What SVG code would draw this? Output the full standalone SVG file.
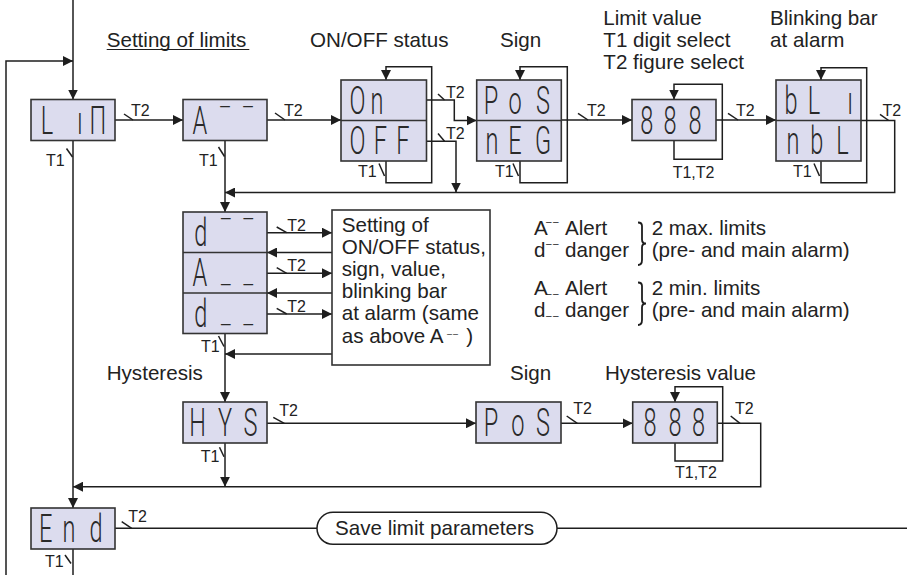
<svg xmlns="http://www.w3.org/2000/svg" width="907" height="575" viewBox="0 0 907 575">
<defs>
<marker id="ah" markerWidth="10" markerHeight="10" refX="10" refY="5" orient="auto" markerUnits="userSpaceOnUse"><path d="M0,0 L10,5 L0,10 z" fill="#1e1e1e"/></marker>
<style>
.ln{fill:none;stroke:#1e1e1e;stroke-width:1.5}
.ar{marker-end:url(#ah)}
.box{fill:#dcdcee;stroke:#333;stroke-width:1.6}
.dv{fill:none;stroke:#333;stroke-width:1.6}
.t{font-family:"Liberation Sans",Arial,sans-serif;font-size:20.6px;fill:#222}
.k{font-family:"Liberation Sans",Arial,sans-serif;font-size:16px;fill:#222}
.seg{font-family:Roboto,"DejaVu Sans",sans-serif;font-weight:300;font-size:38px;fill:#2a2a2a;text-anchor:middle}
.bar{font-size:24px}
.sm{font-size:10px;letter-spacing:1.5px}
</style>
</defs>
<rect width="907" height="575" fill="#fff"/>

<g id="connectors">
<path class="ln ar" d="M73,0 V99.5"/>
<path class="ln ar" d="M6,575 V61 H73"/>
<path class="ln ar" d="M115,120 H183"/>
<path class="ln" d="M124,114 L133,120"/>
<path class="ln ar" d="M73,140.5 V508"/>
<path class="ln" d="M66.5,148.5 L72.5,157"/>
<path class="ln ar" d="M225,140.5 V212"/>
<path class="ln" d="M218.5,147 L224.5,156.5"/>
<path class="ln ar" d="M267,120 H341"/>
<path class="ln" d="M275,113 L285,120"/>
<path class="ln ar" d="M386,161 V182.7 H431.7 V66.7 H386 V80"/>
<path class="ln" d="M379,163.5 L384.5,176"/>
<path class="ln ar" d="M426,100 H454.3 V120.5 H476.7"/>
<path class="ln" d="M438,94 L444.5,100"/>
<path class="ln ar" d="M426,141.3 H456 V192.5"/>
<path class="ln" d="M438,133.5 L444.5,141.3"/>
<path class="ln ar" d="M520,161 V182.7 H567.3 V66.7 H520 V80"/>
<path class="ln" d="M513,163.5 L518.5,176"/>
<path class="ln ar" d="M561.3,120 H632"/>
<path class="ln" d="M578,113.3 L588,120"/>
<path class="ln ar" d="M674,140.5 V159.3 H722.3 V84.3 H674 V99.5"/>
<path class="ln ar" d="M716,120 H776"/>
<path class="ln" d="M728,113.3 L738,120"/>
<path class="ln ar" d="M821,161.3 V182.7 H866.7 V67.7 H821 V80"/>
<path class="ln" d="M814,163.5 L819.5,176"/>
<path class="ln ar" d="M861,120.5 H894.7 V192.5 H225"/>
<path class="ln" d="M880,114.3 L888.7,120.5"/>
<path class="ln ar" d="M267,232.7 H332"/>
<path class="ln" d="M276.7,227 L286.7,232.7"/>
<path class="ln ar" d="M267,273.3 H332"/>
<path class="ln" d="M276.7,267.6 L286.7,273.3"/>
<path class="ln ar" d="M267,314 H332"/>
<path class="ln" d="M276.7,308.3 L286.7,314"/>
<path class="ln ar" d="M332,252.5 H267"/>
<path class="ln ar" d="M332,293 H267"/>
<path class="ln ar" d="M332,354 H225"/>
<path class="ln ar" d="M225,333.5 V402"/>
<path class="ln" d="M218.5,336 L224,346.5"/>
<path class="ln ar" d="M267,423.3 H476"/>
<path class="ln" d="M273.3,417.3 L284.3,423.3"/>
<path class="ln ar" d="M225,443 V486.7"/>
<path class="ln" d="M219.5,447.3 L224,456.7"/>
<path class="ln ar" d="M561,423.3 H632.7"/>
<path class="ln" d="M566.7,416 L577.3,423.3"/>
<path class="ln ar" d="M675,443 V461 H722.7 V386.7 H675 V402"/>
<path class="ln ar" d="M717.3,423.3 H760.7 V486.7 H73"/>
<path class="ln" d="M730.7,416 L740,423.3"/>
<path class="ln" d="M115,528.3 H317"/>
<path class="ln" d="M121.7,521.7 L131.7,528.3"/>
<path class="ln" d="M557,528.3 H907"/>
<path class="ln" d="M73,549 V575"/>
<path class="ln" d="M65,555 L71,563.5"/>
</g>

<g id="labels">
<text class="t" x="106.7" y="46.5">Setting of limits</text>
<path class="ln" d="M106.7,49.5 H249.3" style="stroke-width:1.2"/>
<text class="t" x="310" y="46.5">ON/OFF status</text>
<text class="t" x="500" y="46.5">Sign</text>
<text class="t" x="603.3" y="24.5">Limit value</text>
<text class="t" x="603.3" y="46.5">T1 digit select</text>
<text class="t" x="603.3" y="68.5">T2 figure select</text>
<text class="t" x="770" y="24.5">Blinking bar</text>
<text class="t" x="770" y="46.5">at alarm</text>
<text class="t" x="106.7" y="380">Hysteresis</text>
<text class="t" x="510" y="380">Sign</text>
<text class="t" x="605" y="380">Hysteresis value</text>

<text class="k" x="131" y="116">T2</text>
<text class="k" x="284" y="116">T2</text>
<text class="k" x="446" y="97.5">T2</text>
<text class="k" x="446" y="138.5">T2</text>
<text class="k" x="587" y="115.5">T2</text>
<text class="k" x="736" y="115.5">T2</text>
<text class="k" x="882.5" y="115.5">T2</text>
<text class="k" x="287.3" y="230.5">T2</text>
<text class="k" x="287.3" y="271">T2</text>
<text class="k" x="287.3" y="311.5">T2</text>
<text class="k" x="279.3" y="416">T2</text>
<text class="k" x="573.3" y="414.3">T2</text>
<text class="k" x="735" y="414.3">T2</text>
<text class="k" x="128.3" y="521.5">T2</text>

<text class="k" x="46" y="165.5">T1</text>
<text class="k" x="199" y="165.5">T1</text>
<text class="k" x="358" y="177">T1</text>
<text class="k" x="495" y="177">T1</text>
<text class="k" x="793" y="177">T1</text>
<text class="k" x="201" y="351.5">T1</text>
<text class="k" x="200.7" y="461.7">T1</text>
<text class="k" x="45" y="566.7">T1</text>
<text class="k" x="672.7" y="177.5">T1,T2</text>
<text class="k" x="675" y="478.3">T1,T2</text>

<text class="t" y="235"><tspan x="534">A</tspan><tspan class="sm" x="546" y="224.5">––</tspan><tspan x="565" y="235">Alert</tspan></text>
<text class="t" y="257"><tspan x="534">d</tspan><tspan class="sm" x="546" y="246.5">––</tspan><tspan x="565" y="257">danger</tspan></text>
<text class="t" x="651.7" y="235">2 max. limits</text>
<text class="t" x="651.7" y="257">(pre- and main alarm)</text>
<path class="ln" d="M638,222.5 Q642,222.5 642,226 V239.5 Q642,243.5 646,243.5 Q642,243.5 642,247.5 V260 Q642,265 638,265" style="stroke-width:1.8"/>
<text class="t" y="295"><tspan x="534">A</tspan><tspan class="sm" x="546" y="297">––</tspan><tspan x="565" y="295">Alert</tspan></text>
<text class="t" y="317"><tspan x="534">d</tspan><tspan class="sm" x="546" y="319">––</tspan><tspan x="565" y="317">danger</tspan></text>
<text class="t" x="651.7" y="295">2 min. limits</text>
<text class="t" x="651.7" y="317">(pre- and main alarm)</text>
<path class="ln" d="M638,282.5 Q642,282.5 642,286 V299.5 Q642,303.5 646,303.5 Q642,303.5 642,307.5 V320 Q642,325 638,325" style="stroke-width:1.8"/>
</g>

<g id="n-lim">
<rect class="box" x="31" y="99.5" width="84" height="41"/>
<text class="seg" transform="translate(31,133.5) scale(0.62,1)"><tspan x="25.8">L</tspan><tspan x="79">ı</tspan><tspan x="108">Π</tspan></text>
</g>
<g id="n-a-max">
<rect class="box" x="183" y="99.5" width="84" height="41"/>
<text class="seg" transform="translate(183,133.5) scale(0.62,1)"><tspan x="27.4">A</tspan><tspan class="bar" x="67.7" y="-18.5">—</tspan><tspan class="bar" x="104.8" y="-18.5">—</tspan></text>
</g>
<g id="n-onoff">
<rect class="box" x="341" y="80" width="85.5" height="81"/>
<path class="dv" d="M341,120.5 H426.5"/>
<text class="seg" transform="translate(341,113.8) scale(0.62,1)"><tspan x="26.6">O</tspan><tspan x="58.1">n</tspan></text>
<text class="seg" transform="translate(341,154.3) scale(0.62,1)"><tspan x="26.6">O</tspan><tspan x="63.7">F</tspan><tspan x="100">F</tspan></text>
</g>
<g id="n-sign">
<rect class="box" x="476.7" y="80" width="84.6" height="81"/>
<path class="dv" d="M476.7,120.5 H561.3"/>
<text class="seg" transform="translate(476.7,113.8) scale(0.62,1)"><tspan x="23.1">P</tspan><tspan x="61.8">o</tspan><tspan x="106.9">S</tspan></text>
<text class="seg" transform="translate(476.7,154.3) scale(0.62,1)"><tspan x="24.7">n</tspan><tspan x="61.8">E</tspan><tspan x="106.9">G</tspan></text>
</g>
<g id="n-value">
<rect class="box" x="632" y="99.5" width="84" height="41"/>
<text class="seg" transform="translate(632,133.5) scale(0.62,1)"><tspan x="23.7">8</tspan><tspan x="61.3">8</tspan><tspan x="101.6">8</tspan></text>
</g>
<g id="n-blink">
<rect class="box" x="776" y="80" width="85" height="81"/>
<path class="dv" d="M776,120.5 H861"/>
<text class="seg" transform="translate(776,113.8) scale(0.62,1)"><tspan x="24.2">b</tspan><tspan x="61.3">L</tspan><tspan x="119.4">ı</tspan></text>
<text class="seg" transform="translate(776,154.3) scale(0.62,1)"><tspan x="27.4">n</tspan><tspan x="65.6">b</tspan><tspan x="107.3">L</tspan></text>
</g>
<g id="n-limits">
<rect class="box" x="183" y="212" width="84" height="121.5"/>
<path class="dv" d="M183,252.5 H267 M183,293 H267"/>
<text class="seg" transform="translate(183,245.8) scale(0.62,1)"><tspan x="28.7">d</tspan><tspan class="bar" x="69" y="-18.5">—</tspan><tspan class="bar" x="105.3" y="-18.5">—</tspan></text>
<text class="seg" transform="translate(183,286.3) scale(0.62,1)"><tspan x="27.4">A</tspan><tspan class="bar" x="69" y="6.5">—</tspan><tspan class="bar" x="105.3" y="6.5">—</tspan></text>
<text class="seg" transform="translate(183,326.8) scale(0.62,1)"><tspan x="28.7">d</tspan><tspan class="bar" x="69" y="6.5">—</tspan><tspan class="bar" x="105.3" y="6.5">—</tspan></text>
</g>
<g id="n-setting">
<rect x="332" y="210" width="158" height="155" fill="#fff" stroke="#333" stroke-width="1.6"/>
<text class="t" x="341.7" y="231.5">Setting of</text>
<text class="t" x="341.7" y="253.5">ON/OFF status,</text>
<text class="t" x="341.7" y="275.5">sign, value,</text>
<text class="t" x="341.7" y="297.5">blinking bar</text>
<text class="t" x="341.7" y="319.5">at alarm (same</text>
<text class="t" y="343"><tspan x="341.7">as above A</tspan><tspan class="sm" x="447" y="337" style="font-size:9px;letter-spacing:1px">––</tspan><tspan x="460.5" y="343"> )</tspan></text>
</g>
<g id="n-hys">
<rect class="box" x="183" y="402" width="84" height="41"/>
<text class="seg" transform="translate(183,436) scale(0.62,1)"><tspan x="23.4">H</tspan><tspan x="67.7">Y</tspan><tspan x="108.9">S</tspan></text>
</g>
<g id="n-hys-sign">
<rect class="box" x="476" y="402" width="85" height="41"/>
<text class="seg" transform="translate(476,436) scale(0.62,1)"><tspan x="24.2">P</tspan><tspan x="67.7">o</tspan><tspan x="108.1">S</tspan></text>
</g>
<g id="n-hys-value">
<rect class="box" x="632.7" y="402" width="84.6" height="41"/>
<text class="seg" transform="translate(632.7,436) scale(0.62,1)"><tspan x="27.9">8</tspan><tspan x="68.2">8</tspan><tspan x="106.1">8</tspan></text>
</g>
<g id="n-end">
<rect class="box" x="31" y="508" width="84" height="41"/>
<text class="seg" transform="translate(31,542) scale(0.62,1)"><tspan x="23.9">E</tspan><tspan x="61.3">n</tspan><tspan x="104.8">d</tspan></text>
</g>
<g id="n-save">
<rect x="317" y="512.3" width="240" height="32" rx="16" ry="16" fill="#fff" stroke="#1e1e1e" stroke-width="1.5"/>
<text class="t" x="335" y="535">Save limit parameters</text>
</g>
</svg>
